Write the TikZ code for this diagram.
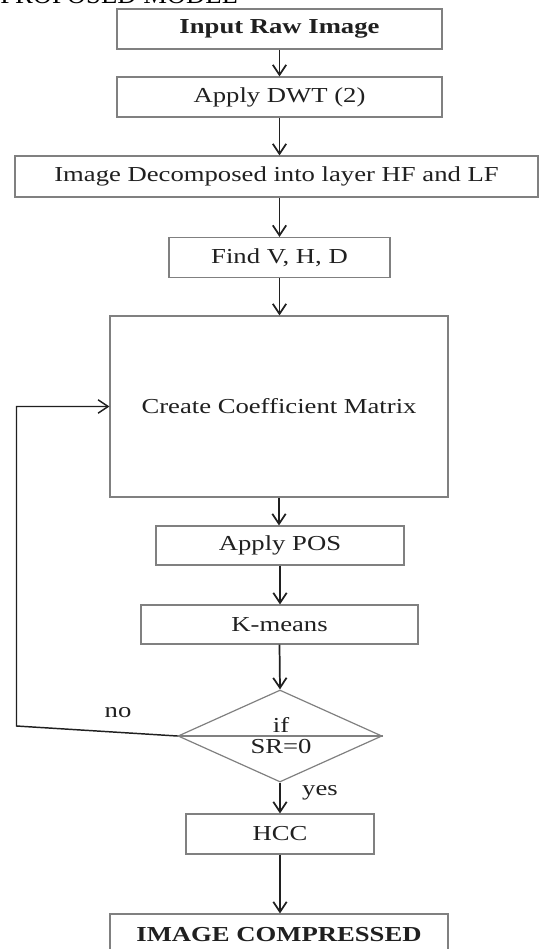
\documentclass[tikz,border=0pt]{standalone}
\usepackage{fontspec}
\setmainfont{Liberation Serif}[FakeStretch=1.25]
\newfontfamily\titlefont{Liberation Serif}
\usetikzlibrary{arrows.meta,shapes.geometric}
\definecolor{boxline}{RGB}{128,128,128}
\definecolor{ink}{RGB}{32,32,32}
\begin{document}
\begin{tikzpicture}[x=0.75pt,y=-0.75pt,
  stepbox/.style n args={2}{draw=boxline, line width=0.9pt, fill=white, rectangle,
    inner sep=0pt, minimum width=#1*0.75pt, minimum height=#2*0.75pt,
    text=ink, font=\fontsize{16}{19}\selectfont},
  boldtext/.style={font=\fontsize{16}{19}\selectfont\bfseries},
  flow/.style={draw=ink, line width=1.3pt, -{Straight Barb[length=7.5pt,width=10pt]}},
  lbl/.style={text=ink, font=\fontsize{16}{19}\selectfont, inner sep=0pt}]
\useasboundingbox (0,0) rectangle (540,949);

% heading, partly above the page
\node[anchor=base west, inner sep=0pt, text=black,
      font=\titlefont\fontsize{20}{24}\selectfont] (title) at (0,3.5) {PROPOSED MODEL};

% process steps
\node[stepbox={325}{40}, boldtext] (in)  at (279.5,29)    {Input Raw Image};
\node[stepbox={325}{40}]           (dwt) at (279.5,97)    {Apply DWT (2)};
\node[stepbox={523}{41}]           (dec) at (276.5,176.5) {Image Decomposed into layer HF and LF};
\node[stepbox={221}{40}]           (vhd) at (279.5,257.5) {Find V, H, D};
\node[stepbox={338}{181}]          (cm)  at (279,406.5)   {Create Coefficient Matrix};
\node[stepbox={248}{39}]           (pos) at (280,545.5)   {Apply POS};
\node[stepbox={277}{39}]           (km)  at (279.5,624.5) {K-means};

% decision
\node[diamond, draw=boxline, line width=0.9pt, fill=white, inner sep=0pt,
      minimum width=204*0.75pt, minimum height=92*0.75pt] (dia) at (280,736) {};
\draw[draw=boxline, line width=0.9pt] (dia.west) -- (dia.east);
\node[lbl] (ift) at (281,725) {if};
\node[lbl] (srt) at (281,747) {SR=0};

\node[stepbox={188}{40}]           (hcc) at (280,834)     {HCC};
\node[stepbox={338}{42}, boldtext] (out) at (279,935)     {IMAGE COMPRESSED};

% branch labels
\node[lbl] (no)  at (118,713) {no};
\node[lbl] (yes) at (320,793) {yes};

% main flow
\draw[flow] (in.south)  -- (in.south |- dwt.north);
\draw[flow] (dwt.south) -- (dwt.south |- dec.north);
\draw[flow] (dwt.south |- dec.south) -- (dwt.south |- vhd.north);
\draw[flow] (vhd.south) -- (vhd.south |- cm.north);
\draw[flow] (cm.south)  -- (cm.south |- pos.north);
\draw[flow] (pos.south) -- (pos.south |- km.north);
\draw[flow] (km.south)  -- (dia.north);
\draw[flow] (dia.south) -- (dia.south |- hcc.north);
\draw[flow] (hcc.south) -- (hcc.south |- out.north);

% loop back on "no"
\coordinate (fbA) at (16.5,726);
\coordinate (fbB) at (16.5,406.5);
\draw[flow, line width=1.1pt] (dia.west) -- (fbA) -- (fbB) -- (cm.west);
\end{tikzpicture}
\end{document}
